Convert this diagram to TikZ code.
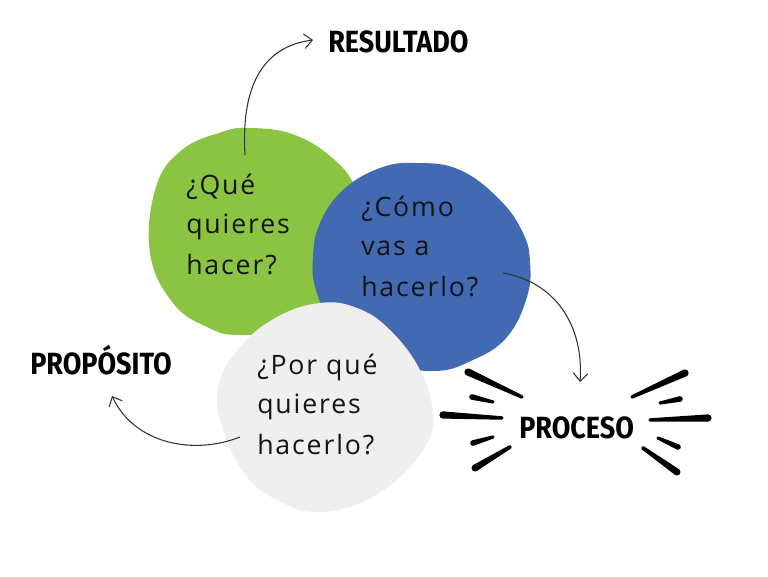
\documentclass[tikz,border=0pt]{standalone}
\usepackage{fontspec}
\setmainfont{Open Sans}[LetterSpace=7]
\newfontfamily\labelfont{Fira Sans}[FakeStretch=0.88]
\usetikzlibrary{arrows.meta,calc}
\definecolor{blobgreen}{HTML}{8BC342}
\definecolor{blobblue}{HTML}{416AB3}
\definecolor{blobgray}{HTML}{EFEFEF}
\tikzset{
  blobtext/.style={anchor=base west, inner sep=0pt, text=black!92, font=\fontsize{20}{22}\selectfont},
  lbl/.style={anchor=base west, inner sep=0pt, font=\labelfont\bfseries\fontsize{23}{25}\selectfont},
  conn/.style={draw=black!80, line width=0.8pt, -{Straight Barb[length=6pt,width=11pt]}}
}
% tapered ray: #1 outer (thick) end, #2 inner (thin) end, #3 outer half-width, #4 inner half-width
\newcommand\taperray[4]{%
  \fill ($(#1)!#3!90:(#2)$) -- ($(#2)!#4!-90:(#1)$) -- ($(#2)!#4!90:(#1)$) -- ($(#1)!#3!-90:(#2)$) -- cycle;
  \fill (#1) circle (#3);
  \fill (#2) circle (#4);}
\begin{document}
\begin{tikzpicture}[x=0.75pt,y=-0.75pt]
\useasboundingbox (0,0) rectangle (768,577);
% blobs
\fill[blobgreen] plot[smooth cycle, tension=0.7] coordinates {
  (250,128) (292,134) (330,156) (355,187) (366,235) (355,290) (300,328)
  (240,335) (207,327) (173,303) (150,253) (156,187) (182,150) (222,132)};
\fill[blobblue] plot[smooth cycle, tension=0.7] coordinates {
  (417,163) (460,170) (500,200) (523,233) (530,262) (527,297) (507,337)
  (473,360) (433,371) (380,360) (335,325) (316,290) (313,257) (320,223) (343,190) (380,168)};
\fill[blobgray] plot[smooth cycle, tension=0.7] coordinates {
  (320,303) (357,308) (390,330) (420,370) (433,413) (427,443) (400,477)
  (360,503) (317,512) (283,503) (247,477) (223,430) (218,387) (240,347) (277,317)};
% blob texts
\node[blobtext] (g1) at (186,195) {¿Qué};
\node[blobtext] (g2) at (186,234) {quieres};
\node[blobtext] (g3) at (186,275) {hacer?};
\node[blobtext] (b1) at (361,217) {¿Cómo};
\node[blobtext] (b2) at (361,256) {vas a};
\node[blobtext] (b3) at (361,297) {hacerlo?};
\node[blobtext] (p1) at (257,375) {¿Por qué};
\node[blobtext] (p2) at (257,414) {quieres};
\node[blobtext] (p3) at (257,455) {hacerlo?};
% labels
\node[lbl] (res) at (328,53) {RESULTADO};
\node[lbl] (prop) at (30,375) {PROPÓSITO};
\node[lbl] (proc) at (519,438) {PROCESO};
% connectors
\coordinate (gs) at (245,155);
\coordinate (ge) at (313,40);
\coordinate (bs) at (503,273);
\coordinate (be) at (580,382);
\coordinate (ps) at (240,437);
\coordinate (pe) at (112,396);
\draw[conn] (gs) .. controls (240,70) and (275,45) .. (ge);
\draw[conn] (bs) .. controls (555,282) and (584,325) .. (be);
\draw[conn] (ps) .. controls (195,455) and (135,445) .. (pe);
% burst rays around PROCESO
\taperray{468,372}{522,397}{2.7pt}{1.3pt}
\taperray{472,397}{493,402}{2.1pt}{1.2pt}
\taperray{443,415}{502,418}{2.7pt}{1.3pt}
\taperray{473,443}{493,437}{2.1pt}{1.2pt}
\taperray{475,468}{510,447}{2.6pt}{1.4pt}
\taperray{685,373}{632,397}{2.7pt}{1.3pt}
\taperray{680,399}{660,403}{2.1pt}{1.2pt}
\taperray{708,418}{650,420}{2.7pt}{1.3pt}
\taperray{678,447}{658,438}{2.1pt}{1.2pt}
\taperray{677,472}{643,448}{2.6pt}{1.4pt}
\end{tikzpicture}
\end{document}
